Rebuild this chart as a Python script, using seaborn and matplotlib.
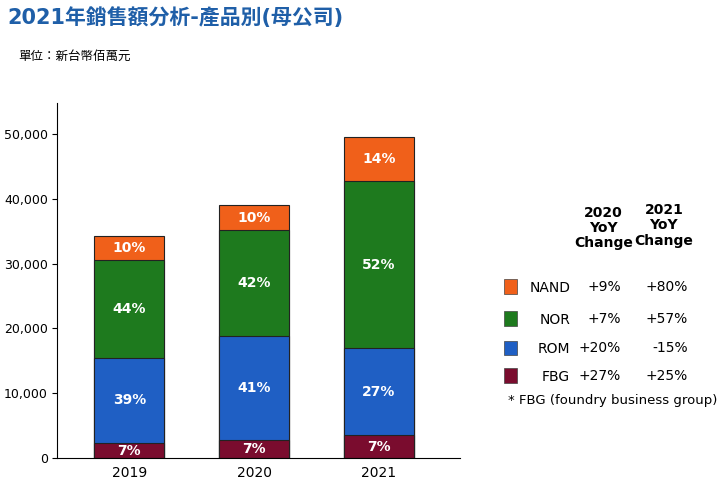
import numpy as np
import pandas as pd
import matplotlib
matplotlib.use("Agg")
import matplotlib.pyplot as plt
import seaborn as sns
from matplotlib import font_manager as fm

cjk = [f.name for f in fm.fontManager.ttflist if "CJK" in f.name]
plt.rcParams["font.family"] = ["DejaVu Sans"] + sorted(set(cjk))

years = ["2019", "2020", "2021"]
products = ["FBG", "ROM", "NOR", "NAND"]
fbg = [2300, 2800, 3500]
rom = [13200, 16000, 13500]
nor = [15100, 16400, 25700]
nand = [3600, 3800, 6900]
pct = {"FBG": ["7%", "7%", "7%"], "ROM": ["39%", "41%", "27%"],
       "NOR": ["44%", "42%", "52%"], "NAND": ["10%", "10%", "14%"]}
yoy_2020 = ["+9%", "+7%", "+20%", "+27%"]
yoy_2021 = ["+80%", "+57%", "-15%", "+25%"]
colors = {"FBG": "#7a0c2e", "ROM": "#1f5fc4", "NOR": "#1e7a1e", "NAND": "#f0601a"}

df = pd.DataFrame({"year": years, "FBG": fbg, "ROM": rom, "NOR": nor, "NAND": nand})
cum = df[products].cumsum(axis=1)

fig = plt.figure(figsize=(7.2, 4.9), dpi=100)
ax = fig.add_axes([0.079, 0.065, 0.56, 0.725])

# draw from the top layer down so lower layers cover the upper ones
for p in reversed(products):
    sns.barplot(x=df["year"], y=cum[p], color=colors[p], width=0.56,
                edgecolor="#222222", linewidth=0.8, saturation=1, ax=ax)

for i in range(len(years)):
    for p in products:
        mid = cum[p][i] - df[p][i] / 2
        ax.text(i, mid, pct[p][i], ha="center", va="center", color="white",
                fontsize=10, fontweight="bold")

ax.set_ylim(0, 54800)
ax.set_xlim(-0.58, 2.65)
ax.set_yticks(range(0, 50001, 10000))
ax.set_yticklabels([f"{v:,}" for v in range(0, 50001, 10000)], fontsize=9)
ax.tick_params(axis="y", pad=3)
ax.tick_params(axis="x", labelsize=10, length=0, pad=6)
ax.set_xlabel("")
ax.set_ylabel("")
for s in ["top", "right"]:
    ax.spines[s].set_visible(False)

fig.text(0.01, 0.965, "2021年銷售額分析-產品別(母公司)", fontsize=15, fontweight="bold",
         color="#1f5fa8", va="center")
fig.text(0.025, 0.885, "單位：新台幣佰萬元", fontsize=9, va="center")

# YoY table
fig.text(0.838, 0.535, "2020\nYoY\nChange", ha="center", va="center", fontsize=10,
         fontweight="bold", linespacing=1.1)
fig.text(0.922, 0.54, "2021\nYoY\nChange", ha="center", va="center", fontsize=10,
         fontweight="bold", linespacing=1.1)
rows_y = [0.415, 0.35, 0.29, 0.233]
for p, y, a, b in zip(reversed(products), rows_y, yoy_2020, yoy_2021):
    fig.patches.append(matplotlib.patches.Rectangle((0.7, y - 0.015), 0.018, 0.03,
                       transform=fig.transFigure, facecolor=colors[p],
                       edgecolor="#444444", linewidth=0.5))
    fig.text(0.792, y - 0.003, p, ha="right", va="center", fontsize=10)
    fig.text(0.862, y, a, ha="right", va="center", fontsize=10)
    fig.text(0.955, y, b, ha="right", va="center", fontsize=10)
fig.text(0.705, 0.182, "* FBG (foundry business group)", va="center", fontsize=9.5)

fig.savefig("out.png", dpi=100)
